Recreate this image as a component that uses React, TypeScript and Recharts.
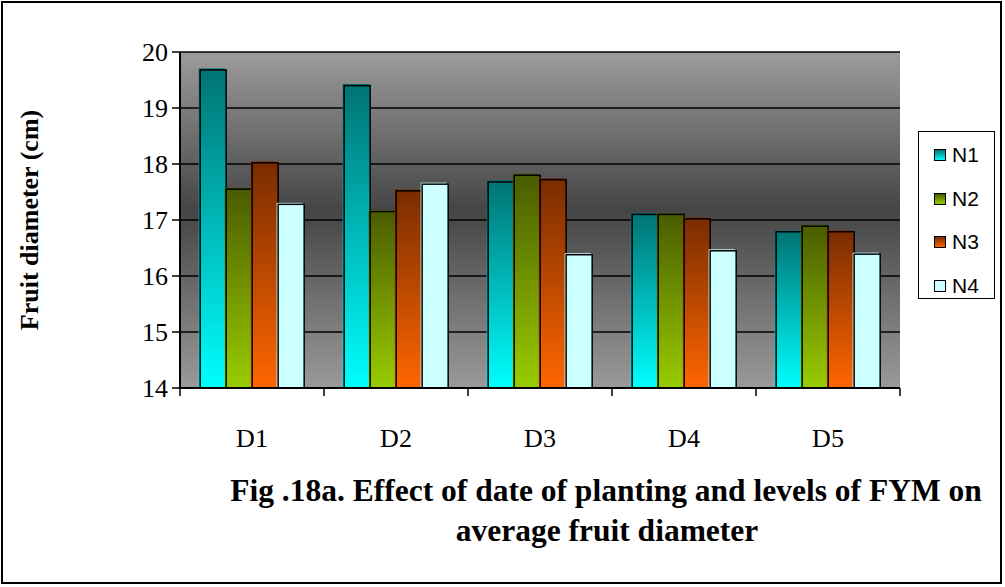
import React from "react";
import { BarChart, Bar, XAxis, YAxis, CartesianGrid } from "recharts";

const categories = ["D1", "D2", "D3", "D4", "D5"];
const n1 = [19.68, 19.4, 17.68, 17.1, 16.79];
const n2 = [17.55, 17.15, 17.8, 17.1, 16.89];
const n3 = [18.02, 17.52, 17.72, 17.02, 16.79];
const n4 = [17.28, 17.64, 16.38, 16.45, 16.39];
const yTicks = [14, 15, 16, 17, 18, 19, 20];
const seriesNames = ["N1", "N2", "N3", "N4"];

const data = categories.map((c, i) => ({ cat: c, N1: n1[i], N2: n2[i], N3: n3[i], N4: n4[i] }));

const W = 1005;
const H = 587;
const X_AXIS_H = 60;
const M = { top: 52, right: 105, bottom: 199 - X_AXIS_H, left: 0 };
const Y_AXIS_W = 180;
const BAND = (W - M.right - Y_AXIS_W) / categories.length;

const series = [
  { key: "N1", grad: "gN1", top: "#007474", bottom: "#00ffff" },
  { key: "N2", grad: "gN2", top: "#4a5c00", bottom: "#99cc00" },
  { key: "N3", grad: "gN3", top: "#7a2c00", bottom: "#ff6600" },
  { key: "N4", grad: "gN4", top: "#ccffff", bottom: "#ccffff" },
];

const makeShape = (grad: string) => (props: any) => {
  const { x, y, width, height } = props;
  if (height <= 0) return null;
  return (
    <g>
      <rect x={x - 1.5} y={y - 1.5} width={width} height={height + 1.5} fill={`url(#${grad})`} />
      <rect x={x} y={y} width={width} height={height} fill={`url(#${grad})`} stroke="#000" strokeWidth={1.5} />
    </g>
  );
};

const XTick = (props: any) => {
  const { x, y, payload, index } = props;
  const half = BAND / 2;
  return (
    <g>
      <line x1={x - half} y1={y - 8} x2={x - half} y2={y} stroke="#000" strokeWidth={1.5} />
      {index === categories.length - 1 && (
        <line x1={x + half} y1={y - 8} x2={x + half} y2={y} stroke="#000" strokeWidth={1.5} />
      )}
      <text x={x} y={y + 51} textAnchor="middle" fontFamily="Liberation Serif" fontSize={26} fill="#000">
        {payload.value}
      </text>
    </g>
  );
};

const LegendBox = () => (
  <div
    style={{
      position: "absolute",
      left: 918,
      top: 131,
      width: 77,
      height: 168,
      border: "1.5px solid #000",
      background: "#fff",
      boxSizing: "border-box",
    }}
  >
    {series.map((s, i) => (
      <div
        key={s.key}
        style={{
          position: "absolute",
          left: 15,
          top: 11 + i * 43.5,
          display: "flex",
          alignItems: "center",
          fontFamily: "Liberation Sans",
          fontSize: 21,
          lineHeight: "24px",
          color: "#000",
        }}
      >
        <span
          style={{
            display: "inline-block",
            width: 10,
            height: 10,
            border: "1.5px solid #000",
            background: s.key === "N4" ? s.bottom : `linear-gradient(${s.top}, ${s.bottom})`,
            marginRight: 6,
          }}
        />
        {seriesNames[i]}
      </div>
    ))}
  </div>
);

export default function App() {
  return (
    <div style={{ position: "absolute", left: 0, top: 0, width: W, height: H, background: "#fff" }}>
      <div
        style={{
          position: "absolute",
          left: 1,
          top: 1,
          width: W - 4,
          height: H - 4,
          border: "2px solid #000",
          boxSizing: "border-box",
        }}
      />
      <BarChart
        width={W}
        height={H}
        data={data}
        margin={M}
        barCategoryGap="14%"
        barGap={0}
        style={{ position: "absolute", left: 0, top: 0 }}
      >
        <defs>
          <linearGradient id="bgGrad" x1="0" y1="0" x2="0" y2="1">
            <stop offset="0%" stopColor="#9c9c9c" />
            <stop offset="47%" stopColor="#454545" />
            <stop offset="100%" stopColor="#9a9a9a" />
          </linearGradient>
          {series.map((s) => (
            <linearGradient key={s.grad} id={s.grad} x1="0" y1="0" x2="0" y2="1">
              <stop offset="0%" stopColor={s.top} />
              <stop offset="100%" stopColor={s.bottom} />
            </linearGradient>
          ))}
        </defs>
        <CartesianGrid vertical={false} stroke="#000" strokeWidth={1.5} fill="url(#bgGrad)" fillOpacity={1} />
        <XAxis
          dataKey="cat"
          tickLine={false}
          axisLine={{ stroke: "#000", strokeWidth: 2 }}
          tick={<XTick />}
          interval={0}
          height={X_AXIS_H}
        />
        <YAxis
          domain={[14, 20]}
          ticks={yTicks}
          interval={0}
          width={Y_AXIS_W}
          tickSize={8}
          tickLine={{ stroke: "#000", strokeWidth: 1.5 }}
          axisLine={{ stroke: "#000", strokeWidth: 2 }}
          tick={{ fontFamily: "Liberation Serif", fontSize: 26, fill: "#000" }}
          tickMargin={4}
        />
        {series.map((s) => (
          <Bar key={s.key} dataKey={s.key} name={s.key} isAnimationActive={false} shape={makeShape(s.grad)} />
        ))}
      </BarChart>
      <svg width={W} height={H} style={{ position: "absolute", left: 0, top: 0, pointerEvents: "none" }}>
        <text
          transform="translate(38,220) rotate(-90)"
          textAnchor="middle"
          fontFamily="Liberation Serif"
          fontWeight="bold"
          fontSize={26}
          fill="#000"
        >
          Fruit diameter (cm)
        </text>
        <text
          x={606}
          y={501}
          textAnchor="middle"
          fontFamily="Liberation Serif"
          fontWeight="bold"
          fontSize={31.5}
          fill="#000"
        >
          Fig .18a. Effect of date of planting  and levels of FYM on
        </text>
        <text
          x={607}
          y={541}
          textAnchor="middle"
          fontFamily="Liberation Serif"
          fontWeight="bold"
          fontSize={31.5}
          fill="#000"
        >
          average fruit diameter
        </text>
      </svg>
      <LegendBox />
    </div>
  );
}
